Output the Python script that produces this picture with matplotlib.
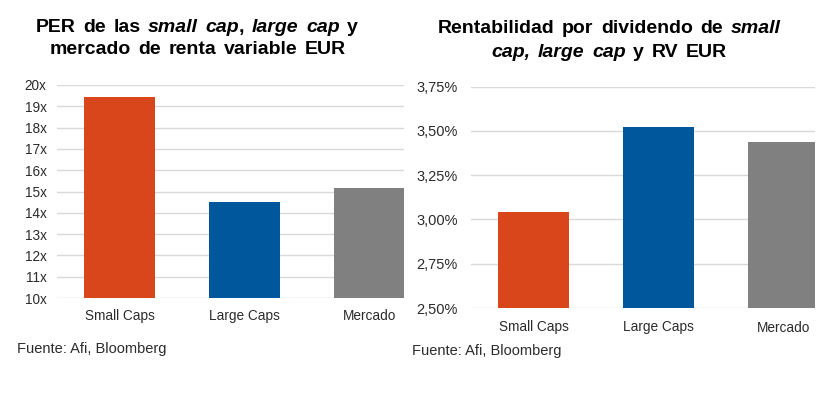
import matplotlib
matplotlib.use("Agg")
import matplotlib.pyplot as plt
from matplotlib.ticker import FuncFormatter

# ---- data ----
categories = ["Small Caps", "Large Caps", "Mercado"]
per_values = [19.42, 14.5, 15.18]
per_ticks = list(range(10, 21))
yield_values = [3.04, 3.52, 3.435]
yield_ticks = [2.50, 2.75, 3.00, 3.25, 3.50, 3.75]
bar_colors = ["#D9461B", "#00579B", "#808080"]
source_text = "Fuente: Afi, Bloomberg"
title_left = [
    [("PER de las", "n"), ("small cap", "i"), (",", "n", 0), ("large cap", "i"), ("y", "n")],
    [("mercado de renta variable EUR", "n")],
]
title_right = [
    [("Rentabilidad por dividendo de", "n"), ("small", "i")],
    [("cap, large cap", "i"), ("y RV EUR", "n")],
]

W, H = 834, 395
plt.rcParams['font.family'] = ['Liberation Sans', 'DejaVu Sans']
fig = plt.figure(figsize=(W / 100, H / 100), dpi=100)
fig.patch.set_facecolor("white")

GRID = "#D9D9D9"
TXT = "#2b2b2b"


def make_axes(left_px, right_px, top_px, bottom_px, xmax):
    ax = fig.add_axes([left_px / W, 1 - bottom_px / H,
                       (right_px - left_px) / W, (bottom_px - top_px) / H])
    for s in ax.spines.values():
        s.set_visible(False)
    ax.tick_params(length=0, labelsize=9.8, colors=TXT)
    ax.set_xlim(-0.5, xmax)
    ax.grid(axis="y", color=GRID, linewidth=1.0)
    ax.set_axisbelow(True)
    return ax


# Left chart
ax1 = make_axes(57, 404, 85, 298, (404 - 57) / 125 - 0.5)
ax1.bar(range(len(categories)), per_values, width=0.57, color=bar_colors, zorder=2)
ax1.set_ylim(per_ticks[0], per_ticks[-1])
ax1.set_yticks(per_ticks)
ax1.yaxis.set_major_formatter(FuncFormatter(lambda v, p: f"{v:.0f}x"))
ax1.set_xticks(range(len(categories)))
ax1.set_xticklabels(categories)
ax1.tick_params(axis="y", pad=7.5)
ax1.tick_params(axis="x", pad=8)

# Right chart
ax2 = make_axes(471, 815, 86.7, 308, (815 - 471) / 125 - 0.5)
ax2.bar(range(len(categories)), yield_values, width=0.57, color=bar_colors, zorder=2)
ax2.set_ylim(yield_ticks[0], yield_ticks[-1])
ax2.set_yticks(yield_ticks)
ax2.yaxis.set_major_formatter(FuncFormatter(lambda v, p: f"{v:.2f}%".replace(".", ",")))
ax2.set_xticks(range(len(categories)))
ax2.set_xticklabels(categories)
ax2.tick_params(axis="y", pad=9.5, labelsize=10.5)
ax2.tick_params(axis="x", pad=9)

# Sources
fig.text(17 / W, 1 - 349 / H, source_text, fontsize=10.5, color=TXT, va="center", ha="left")
fig.text(412 / W, 1 - 351 / H, source_text, fontsize=10.5, color=TXT, va="center", ha="left")

# Titles with mixed italic
renderer = fig.canvas.get_renderer()
TSIZE = 14.0


def seg_width(txt, style):
    t = fig.text(0, 0, txt, fontsize=TSIZE, fontweight="bold",
                 fontstyle="italic" if style == "i" else "normal")
    w = t.get_window_extent(renderer).width
    t.remove()
    return w


space_w = (seg_width("a a", "n") - seg_width("aa", "n")) * 1.4


def draw_line(segs, cx, baseline_px):
    pieces = []
    for seg in segs:
        txt, style = seg[0], seg[1]
        gap_before = seg[2] if len(seg) > 2 else None
        words = txt.split(" ")
        for j, wd in enumerate(words):
            g = space_w if not (j == 0 and gap_before == 0) else 0
            pieces.append((wd, style, g))
    pieces[0] = (pieces[0][0], pieces[0][1], 0)
    widths = [seg_width(p[0], p[1]) for p in pieces]
    total = sum(widths) + sum(p[2] for p in pieces)
    x = cx - total / 2
    for p, w in zip(pieces, widths):
        x += p[2]
        fig.text(x / W, 1 - baseline_px / H, p[0], fontsize=TSIZE, fontweight="bold",
                 fontstyle="italic" if p[1] == "i" else "normal",
                 color="black", ha="left", va="baseline")
        x += w


draw_line(title_left[0], 197, 32)
draw_line(title_left[1], 198, 54)
draw_line(title_right[0], 609, 33)
draw_line(title_right[1], 609, 57)

fig.savefig("out.png", dpi=100, facecolor="white")
